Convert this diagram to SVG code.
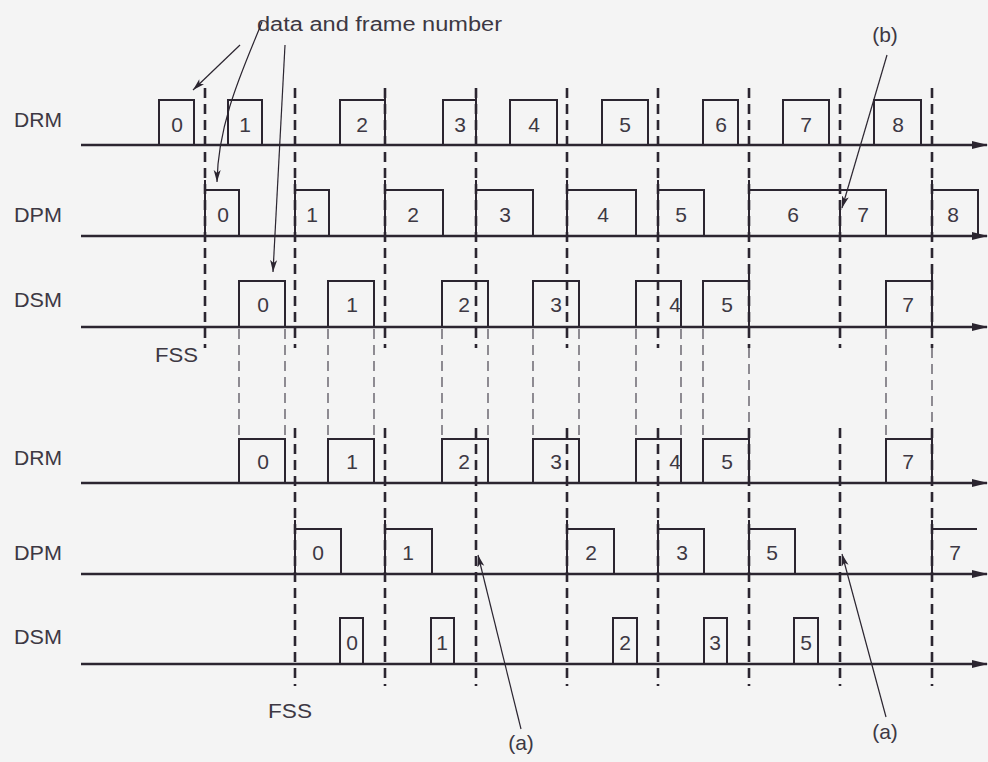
<svg xmlns="http://www.w3.org/2000/svg" width="988" height="762" viewBox="0 0 988 762">
<defs>
<style>
.bg{fill:#f4f4f4}
.ax{stroke:#2b2530;stroke-width:2.5;fill:none}
.bx{stroke:#2b2530;stroke-width:2;fill:none}
.dl{stroke:#2b2530;stroke-width:2.6;stroke-dasharray:10 6;fill:none}
.pl{stroke:#4a4550;stroke-width:1.2;stroke-dasharray:10 6;fill:none}
.pt{stroke:#2b2530;stroke-width:1.2;fill:none}
.lb{font-family:"Liberation Sans",Arial,sans-serif;font-size:19.5px;fill:#3d3843}
.dg{font-family:"Liberation Sans",Arial,sans-serif;font-size:21px;fill:#3d3843;text-anchor:middle}
</style>
<marker id="ah" markerUnits="userSpaceOnUse" markerWidth="16" markerHeight="10" refX="15" refY="5" orient="auto">
<path d="M0,1 L16,5 L0,9 Z" fill="#2b2530"/>
</marker>
<marker id="pa" markerUnits="userSpaceOnUse" markerWidth="12" markerHeight="8" refX="12" refY="4" orient="auto">
<path d="M0,0.5 L12,4 L0,7.5 L3,4 Z" fill="#2b2530"/>
</marker>
</defs>
<rect class="bg" x="0" y="0" width="988" height="762"/>

<g id="labels">
<text class="lb" x="14" y="127" textLength="48" lengthAdjust="spacingAndGlyphs">DRM</text>
<text class="lb" x="14" y="222" textLength="48" lengthAdjust="spacingAndGlyphs">DPM</text>
<text class="lb" x="14" y="307" textLength="48" lengthAdjust="spacingAndGlyphs">DSM</text>
<text class="lb" x="14" y="465" textLength="48" lengthAdjust="spacingAndGlyphs">DRM</text>
<text class="lb" x="14" y="560" textLength="48" lengthAdjust="spacingAndGlyphs">DPM</text>
<text class="lb" x="14" y="644" textLength="48" lengthAdjust="spacingAndGlyphs">DSM</text>
<text class="lb" x="155" y="362" textLength="43" lengthAdjust="spacingAndGlyphs">FSS</text>
<text class="lb" x="268" y="718" textLength="44" lengthAdjust="spacingAndGlyphs">FSS</text>
<text class="lb" x="257" y="31" font-size="21" textLength="245" lengthAdjust="spacingAndGlyphs">data and frame number</text>
<text class="dg" x="885" y="42" font-size="20">(b)</text>
<text class="dg" x="521" y="750" font-size="20">(a)</text>
<text class="dg" x="885" y="739" font-size="20">(a)</text>
</g>

<g id="frame-lines">
<path class="dl" d="M205,88V348M295,88V348M385,88V348M476,88V348M567,88V348M658,88V348M749,88V348M840,88V348M932,88V348"/>
<path class="dl" d="M295,428V686M385,428V686M476,428V686M567,428V686M658,428V686M749,428V686M840,428V686M932,428V686"/>
<path class="pl" d="M239,329V438M285,329V438M328,329V438M374,329V438M442,329V438M488,329V438M533,329V438M579,329V438M636,329V438M681,329V438M703,329V438M749,348V428M886,329V438M932,348V428"/>
</g>

<g id="axes">
<line class="ax" x1="81" y1="145" x2="987" y2="145" marker-end="url(#ah)"/>
<line class="ax" x1="81" y1="236" x2="987" y2="236" marker-end="url(#ah)"/>
<line class="ax" x1="81" y1="327" x2="987" y2="327" marker-end="url(#ah)"/>
<line class="ax" x1="81" y1="483" x2="987" y2="483" marker-end="url(#ah)"/>
<line class="ax" x1="81" y1="574" x2="987" y2="574" marker-end="url(#ah)"/>
<line class="ax" x1="81" y1="664" x2="987" y2="664" marker-end="url(#ah)"/>
</g>

<g id="drm-upper">
<path class="bx" d="M159,145V100H194V145M228,145V100H262V145M340,145V100H385V88M385,100V145M443,145V100H476V88M476,100V145M510,145V100H557V145M602,145V100H648V145M703,145V100H738V145M783,145V100H829V145M874,145V100H921V145"/>
<text class="dg" x="177" y="132">0</text>
<text class="dg" x="245" y="132">1</text>
<text class="dg" x="362" y="132">2</text>
<text class="dg" x="460" y="132">3</text>
<text class="dg" x="534" y="132">4</text>
<text class="dg" x="625" y="132">5</text>
<text class="dg" x="721" y="132">6</text>
<text class="dg" x="806" y="132">7</text>
<text class="dg" x="898" y="132">8</text>
</g>

<g id="dpm-upper">
<path class="bx" d="M205,180V236M205,190H239V236M295,180V236M295,190H329V236M385,180V236M385,190H443V236M476,180V236M476,190H533V236M567,180V236M567,190H636V236M658,180V236M658,190H704V236M749,180V236M749,190H886V236M840,200V236M932,180V236M932,190H978V236"/>
<text class="dg" x="223" y="222">0</text>
<text class="dg" x="312" y="222">1</text>
<text class="dg" x="413" y="222">2</text>
<text class="dg" x="505" y="222">3</text>
<text class="dg" x="603" y="222">4</text>
<text class="dg" x="681" y="222">5</text>
<text class="dg" x="793" y="222">6</text>
<text class="dg" x="863" y="222">7</text>
<text class="dg" x="953" y="222">8</text>
</g>

<g id="dsm-upper">
<path class="bx" d="M239,327V281H285V327M328,327V281H374V327M442,327V281H488V327M533,327V281H579V327M636,327V281H681V327M703,327V281H749V327M749,281V268M886,327V281H932V327M932,281V268"/>
<text class="dg" x="263" y="312">0</text>
<text class="dg" x="352" y="312">1</text>
<text class="dg" x="464" y="312">2</text>
<text class="dg" x="556" y="312">3</text>
<text class="dg" x="675" y="312">4</text>
<text class="dg" x="727" y="312">5</text>
<text class="dg" x="908" y="312">7</text>
</g>

<g id="drm-lower">
<path class="bx" d="M239,483V439H285V483M328,483V439H374V483M442,483V439H488V483M533,483V439H579V483M636,483V439H681V483M703,483V439H749V483M749,439V428M886,483V439H932V483M932,439V428"/>
<text class="dg" x="263" y="469">0</text>
<text class="dg" x="352" y="469">1</text>
<text class="dg" x="464" y="469">2</text>
<text class="dg" x="556" y="469">3</text>
<text class="dg" x="675" y="469">4</text>
<text class="dg" x="727" y="469">5</text>
<text class="dg" x="908" y="469">7</text>
</g>

<g id="dpm-lower">
<path class="bx" d="M295,520V574M295,529H341V574M385,520V574M385,529H432V574M567,520V574M567,529H614V574M658,520V574M658,529H704V574M749,520V574M749,529H795V574M932,520V574M932,529H977"/>
<text class="dg" x="318" y="560">0</text>
<text class="dg" x="408" y="560">1</text>
<text class="dg" x="591" y="560">2</text>
<text class="dg" x="682" y="560">3</text>
<text class="dg" x="772" y="560">5</text>
<text class="dg" x="955" y="560">7</text>
</g>

<g id="dsm-lower">
<path class="bx" d="M340,664V618H363V664M431,664V618H454V664M613,664V618H637V664M704,664V618H727V664M794,664V618H818V664"/>
<text class="dg" x="352" y="650">0</text>
<text class="dg" x="442" y="650">1</text>
<text class="dg" x="625" y="650">2</text>
<text class="dg" x="715" y="650">3</text>
<text class="dg" x="806" y="650">5</text>
</g>

<g id="connectors">
<line class="pt" x1="240" y1="45" x2="193" y2="90" marker-end="url(#pa)"/>
<path class="pt" d="M262,22 C245,65 218,120 217,182" marker-end="url(#pa)"/>
<line class="pt" x1="285" y1="45" x2="273" y2="272" marker-end="url(#pa)"/>
<line class="pt" x1="887" y1="55" x2="842" y2="208" marker-end="url(#pa)"/>
<line class="pt" x1="521" y1="729" x2="478" y2="555" marker-end="url(#pa)"/>
<line class="pt" x1="886" y1="717" x2="842" y2="554" marker-end="url(#pa)"/>
</g>
</svg>
